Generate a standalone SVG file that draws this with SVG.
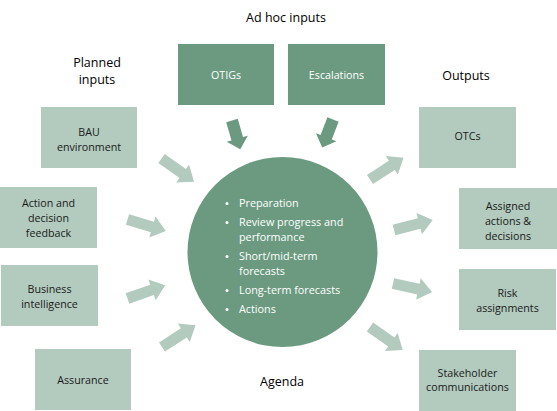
<svg xmlns="http://www.w3.org/2000/svg" width="557" height="411" viewBox="0 0 557 411">
<style>
.dark{fill:#6B9A80}
.light{fill:#B3CBBE}
text{font-family:"Open Sans","Noto Sans","Liberation Sans",sans-serif;text-anchor:middle}
.t{font-size:10.7px;fill:#1a1a1a}
.tw{font-size:10.7px;fill:#ffffff}
.h{font-size:12.5px;fill:#000000}
.b{font-size:10.8px;fill:#ffffff;text-anchor:start}
</style>
<defs>
<path id="la" d="M0,-5.5 H26 V-11 L40,0 L26,11 V5.5 H0 Z"/>
<path id="da" d="M0,-6 H19 V-11 L30,0 L19,11 V6 H0 Z"/>
</defs>
<rect width="557" height="411" fill="#ffffff"/>
<g id="labels">
<text class="h" x="286" y="22">Ad hoc inputs</text>
<text class="h" x="97" y="66.5">Planned</text>
<text class="h" x="97" y="83.5">inputs</text>
<text class="h" x="466" y="79.5">Outputs</text>
<text class="h" x="282" y="386">Agenda</text>
</g>
<g id="connectors">
<use href="#la" class="light" transform="translate(161.5,158.5) rotate(35.5)"/>
<use href="#la" class="light" transform="translate(127.5,219.5) rotate(16.6)"/>
<use href="#la" class="light" transform="translate(127.5,298.5) rotate(-19.3)"/>
<use href="#la" class="light" transform="translate(162,347) rotate(-33)"/>
<use href="#da" class="dark" transform="translate(232,120.5) rotate(74)"/>
<use href="#da" class="dark" transform="translate(333,119.5) rotate(111)"/>
<use href="#la" class="light" transform="translate(370,179.5) rotate(-33)"/>
<use href="#la" class="light" transform="translate(394,230) rotate(-14.4)"/>
<use href="#la" class="light" transform="translate(393,283.5) rotate(12.3)"/>
<use href="#la" class="light" transform="translate(370,327) rotate(35)"/>
</g>
<g id="otigs">
<rect class="dark" x="178" y="44" width="96" height="61"/>
<text class="tw" x="226" y="79">OTIGs</text>
</g>
<g id="escalations">
<rect class="dark" x="288" y="44" width="97" height="61"/>
<text class="tw" x="336.5" y="79">Escalations</text>
</g>
<g id="bau">
<rect class="light" x="41" y="107" width="96" height="61"/>
<text class="t" x="89" y="136">BAU</text>
<text class="t" x="89" y="151">environment</text>
</g>
<g id="feedback">
<rect class="light" x="0" y="187" width="97" height="61"/>
<text class="t" x="48.5" y="207">Action and</text>
<text class="t" x="48.5" y="222">decision</text>
<text class="t" x="48.5" y="237">feedback</text>
</g>
<g id="bi">
<rect class="light" x="1" y="265" width="97" height="61"/>
<text class="t" x="49.5" y="293">Business</text>
<text class="t" x="49.5" y="308">intelligence</text>
</g>
<g id="assurance">
<rect class="light" x="35" y="349" width="96" height="61"/>
<text class="t" x="83" y="384">Assurance</text>
</g>
<g id="otcs">
<rect class="light" x="419" y="107" width="97" height="61"/>
<text class="t" x="467.5" y="140">OTCs</text>
</g>
<g id="assigned">
<rect class="light" x="459" y="188" width="98" height="61"/>
<text class="t" x="508" y="210">Assigned</text>
<text class="t" x="508" y="225">actions &amp;</text>
<text class="t" x="508" y="240">decisions</text>
</g>
<g id="risk">
<rect class="light" x="459" y="269" width="97" height="61"/>
<text class="t" x="507.5" y="297">Risk</text>
<text class="t" x="507.5" y="312">assignments</text>
</g>
<g id="stakeholder">
<rect class="light" x="419" y="350" width="97" height="61"/>
<text class="t" x="467.5" y="377">Stakeholder</text>
<text class="t" x="467.5" y="391">communications</text>
</g>
<g id="agenda">
<circle class="dark" cx="282.5" cy="252" r="95"/>
<g fill="#ffffff">
<circle cx="227" cy="203.5" r="1.5"/>
<circle cx="227" cy="222.5" r="1.5"/>
<circle cx="227" cy="256.5" r="1.5"/>
<circle cx="227" cy="290.5" r="1.5"/>
<circle cx="227" cy="309.5" r="1.5"/>
</g>
<text class="b" x="239" y="207">Preparation</text>
<text class="b" x="239" y="226">Review progress and</text>
<text class="b" x="239" y="241">performance</text>
<text class="b" x="239" y="260">Short/mid-term</text>
<text class="b" x="239" y="275">forecasts</text>
<text class="b" x="239" y="294">Long-term forecasts</text>
<text class="b" x="239" y="313">Actions</text>
</g>
</svg>
